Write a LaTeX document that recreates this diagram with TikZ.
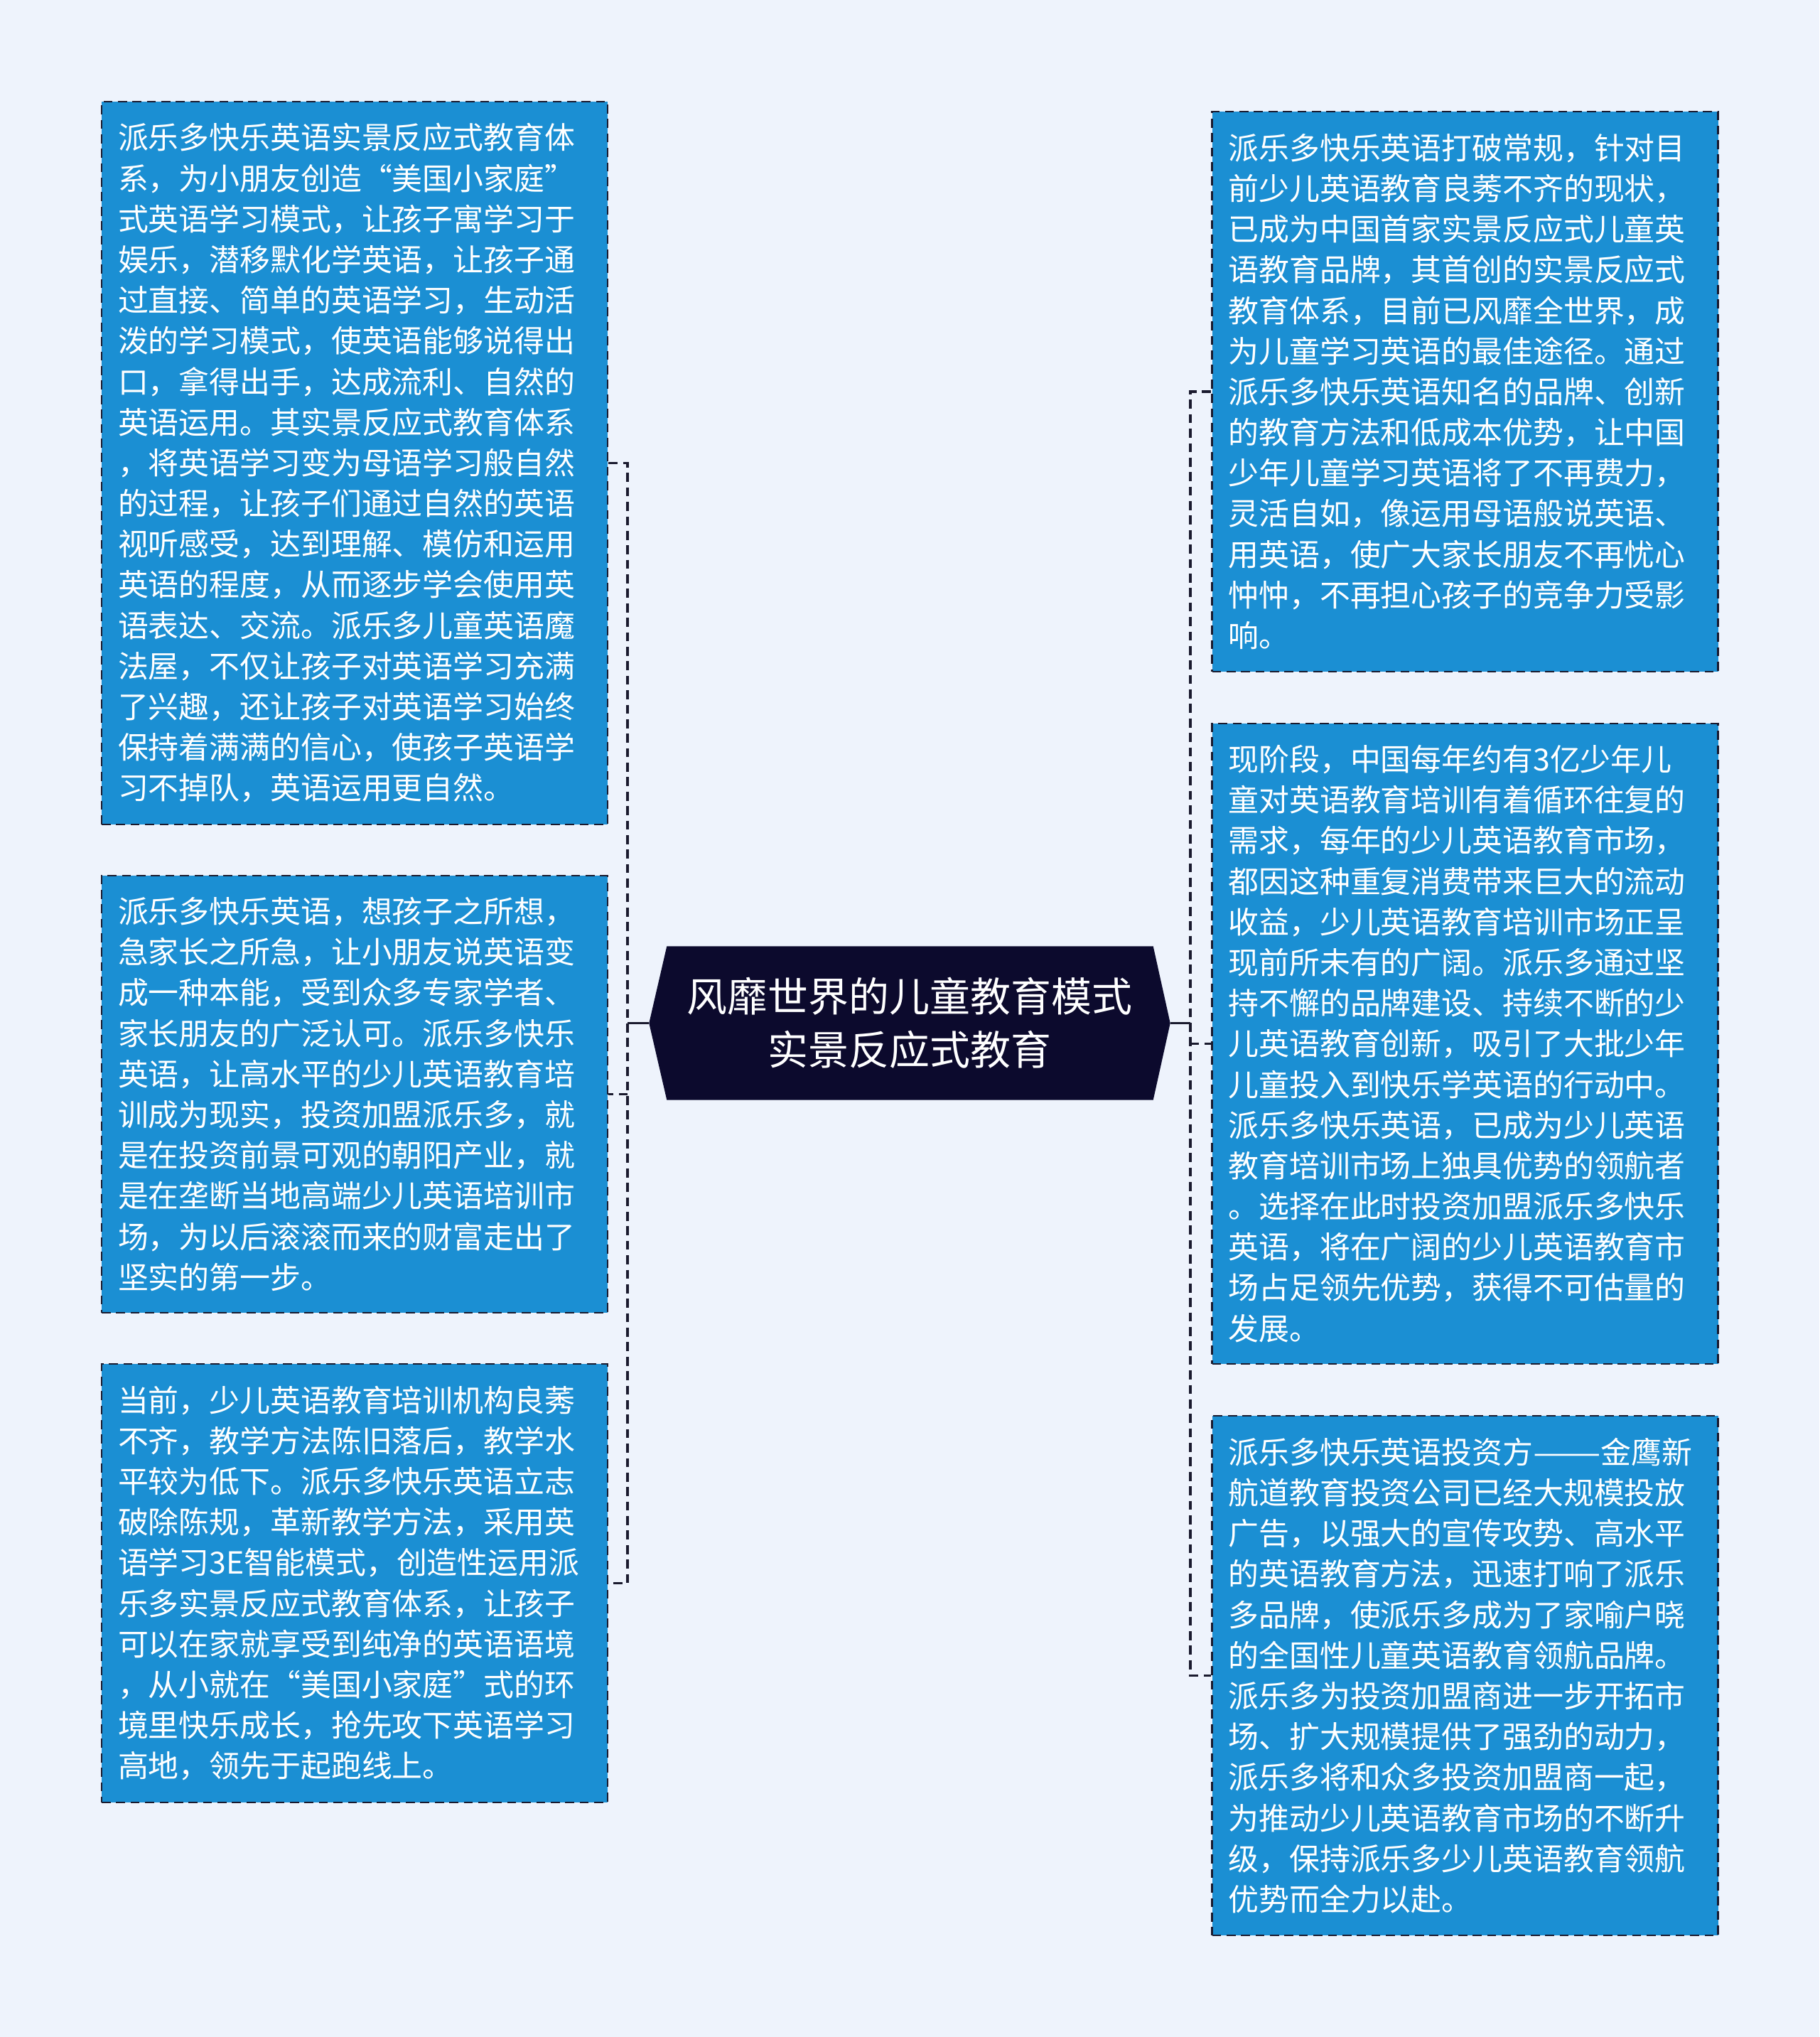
\documentclass[tikz,border=0pt]{standalone}
\usepackage{fontspec}
\setmainfont{Noto Sans CJK SC}
\usetikzlibrary{backgrounds}

\definecolor{pagebg}{HTML}{EEF3FC}
\definecolor{cardblue}{HTML}{1B8FD3}
\definecolor{hubnavy}{HTML}{0C0A2D}
\definecolor{wirecol}{HTML}{1A1A2E}

\begin{document}
\begin{tikzpicture}[
  card/.style={rectangle, draw=wirecol, line width=0.8pt,
    dash pattern=on 3.6pt off 2.2pt, fill=cardblue, text=white,
    minimum width=7.12cm, text width=6.66cm, align=left, inner sep=0pt,
    font=\fontsize{12.2pt}{16.27pt}\selectfont},
  hub/.style={minimum width=7.32cm, minimum height=2.15cm, inner sep=0pt,
    text=white, align=center, font=\fontsize{16.2pt}{21.3pt}\selectfont},
  link/.style={draw=wirecol, line width=1.1pt, dash pattern=on 3.6pt off 2.2pt},
  stub/.style={draw=wirecol, line width=1.1pt}
]
\useasboundingbox (0,0) rectangle (25.6,-28.66);

% centre topic
\node[hub] (hub) at (12.80,-14.395) {风靡世界的儿童教育模式\\实景反应式教育};

% left column
\node[card, minimum height=10.17cm] (lb1) at (4.99,-6.515) {
派乐多快乐英语实景反应式教育体\\
系，为小朋友创造“美国小家庭”\\
式英语学习模式，让孩子寓学习于\\
娱乐，潜移默化学英语，让孩子通\\
过直接、简单的英语学习，生动活\\
泼的学习模式，使英语能够说得出\\
口，拿得出手，达成流利、自然的\\
英语运用。其实景反应式教育体系\\
，将英语学习变为母语学习般自然\\
的过程，让孩子们通过自然的英语\\
视听感受，达到理解、模仿和运用\\
英语的程度，从而逐步学会使用英\\
语表达、交流。派乐多儿童英语魔\\
法屋，不仅让孩子对英语学习充满\\
了兴趣，还让孩子对英语学习始终\\
保持着满满的信心，使孩子英语学\\
习不掉队，英语运用更自然。};

\node[card, minimum height=6.15cm] (lb2) at (4.99,-15.395) {
派乐多快乐英语，想孩子之所想，\\
急家长之所急，让小朋友说英语变\\
成一种本能，受到众多专家学者、\\
家长朋友的广泛认可。派乐多快乐\\
英语，让高水平的少儿英语教育培\\
训成为现实，投资加盟派乐多，就\\
是在投资前景可观的朝阳产业，就\\
是在垄断当地高端少儿英语培训市\\
场，为以后滚滚而来的财富走出了\\
坚实的第一步。};

\node[card, minimum height=6.17cm] (lb3) at (4.99,-22.275) {
当前，少儿英语教育培训机构良莠\\
不齐，教学方法陈旧落后，教学水\\
平较为低下。派乐多快乐英语立志\\
破除陈规，革新教学方法，采用英\\
语学习3E智能模式，创造性运用派\\
乐多实景反应式教育体系，让孩子\\
可以在家就享受到纯净的英语语境\\
，从小就在“美国小家庭”式的环\\
境里快乐成长，抢先攻下英语学习\\
高地，领先于起跑线上。};

% right column
\node[card, minimum height=7.88cm] (rb1) at (20.615,-5.51) {
派乐多快乐英语打破常规，针对目\\
前少儿英语教育良莠不齐的现状，\\
已成为中国首家实景反应式儿童英\\
语教育品牌，其首创的实景反应式\\
教育体系，目前已风靡全世界，成\\
为儿童学习英语的最佳途径。通过\\
派乐多快乐英语知名的品牌、创新\\
的教育方法和低成本优势，让中国\\
少年儿童学习英语将了不再费力，\\
灵活自如，像运用母语般说英语、\\
用英语，使广大家长朋友不再忧心\\
忡忡，不再担心孩子的竞争力受影\\
响。};

\node[card, minimum height=9.01cm] (rb2) at (20.615,-14.685) {
现阶段，中国每年约有3亿少年儿\\
童对英语教育培训有着循环往复的\\
需求，每年的少儿英语教育市场，\\
都因这种重复消费带来巨大的流动\\
收益，少儿英语教育培训市场正呈\\
现前所未有的广阔。派乐多通过坚\\
持不懈的品牌建设、持续不断的少\\
儿英语教育创新，吸引了大批少年\\
儿童投入到快乐学英语的行动中。\\
派乐多快乐英语，已成为少儿英语\\
教育培训市场上独具优势的领航者\\
。选择在此时投资加盟派乐多快乐\\
英语，将在广阔的少儿英语教育市\\
场占足领先优势，获得不可估量的\\
发展。};

\node[card, minimum height=7.31cm] (rb3) at (20.615,-23.575) {
派乐多快乐英语投资方\scalebox{1.33}[1]{——}金鹰新\\
航道教育投资公司已经大规模投放\\
广告，以强大的宣传攻势、高水平\\
的英语教育方法，迅速打响了派乐\\
多品牌，使派乐多成为了家喻户晓\\
的全国性儿童英语教育领航品牌。\\
派乐多为投资加盟商进一步开拓市\\
场、扩大规模提供了强劲的动力，\\
派乐多将和众多投资加盟商一起，\\
为推动少儿英语教育市场的不断升\\
级，保持派乐多少儿英语教育领航\\
优势而全力以赴。};

% page and hexagon behind the nodes
\begin{scope}[on background layer]
\fill[pagebg] (0,0) rectangle (25.6,-28.66);
\fill[hubnavy] (hub.west) -- ([xshift=0.25cm]hub.north west)
  -- ([xshift=-0.24cm]hub.north east) -- (hub.east)
  -- ([xshift=-0.24cm]hub.south east) -- ([xshift=0.25cm]hub.south west) -- cycle;
\end{scope}

% connectors
\draw[stub] (hub.west) -- ++(-0.30,0) coordinate (spineL);
\draw[stub] (hub.east) -- ++(0.28,0) coordinate (spineR);
\draw[link] (lb1.east) -| (spineL) |- (lb3.east);
\draw[link] (spineL |- lb2.east) -- (lb2.east);
\draw[link] (rb1.west) -| (spineR) |- (rb3.west);
\draw[link] (spineR |- rb2.west) -- (rb2.west);

\end{tikzpicture}
\end{document}
